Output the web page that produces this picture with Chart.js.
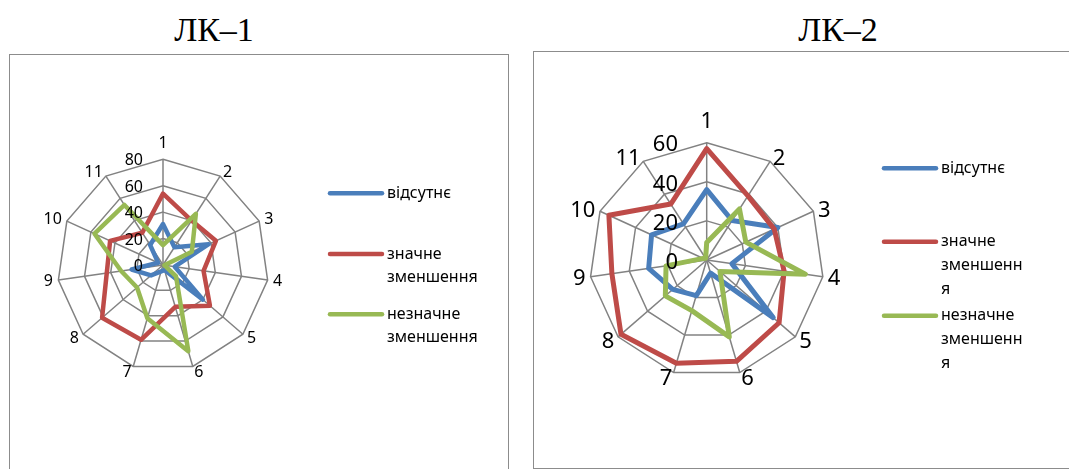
<!DOCTYPE html>
<html>
<head>
<meta charset="utf-8">
<script src="https://cdn.jsdelivr.net/npm/chart.js@4.4.1/dist/chart.umd.min.js"></script>
<style>
  html, body { margin: 0; padding: 0; background: #fff; }
  body { position: relative; width: 1069px; height: 469px; overflow: hidden; }
  .title { position: absolute; top: 13px; font-family: "Liberation Serif", "Times New Roman", serif;
           font-size: 34px; line-height: 1; color: #000; transform: translateX(-50%); white-space: nowrap; }
  .panel { position: absolute; border: 1.5px solid #8c8c8c; box-sizing: border-box; }
  canvas { position: absolute; left: 0; top: 0; }
</style>
</head>
<body>
<div class="title" style="left:214px">ЛК–1</div>
<div class="title" style="left:838px">ЛК–2</div>
<div class="panel" style="left:8.5px; top:54px; width:500.5px; height:440px"></div>
<div class="panel" style="left:532.5px; top:51px; width:560px; height:418px"></div>
<canvas id="lk1" width="1069" height="469"></canvas>
<canvas id="lk2" width="1069" height="469"></canvas>
<script>
// Categories (spokes) shared by both radar charts
const categories = ['1', '2', '3', '4', '5', '6', '7', '8', '9', '10', '11'];
const seriesNames = ['відсутнє', 'значне зменшення', 'незначне зменшення'];

// ЛК–1
const lk1Absent = [31, 16, 38, 9, 40, 4, 5, 12, 24, 4, 18];
const lk1Major  = [54, 40, 44, 31, 47, 33, 59, 61, 43, 44, 29];
const lk1Minor  = [15, 46, 24, 1, 13, 68, 42, 26, 32, 57, 54];
const lk1Ticks  = [0, 20, 40, 60, 80];

// ЛК–2
const lk2Absent = [36, 24, 40, 13, 45, 7, 19, 23, 30, 31, 22];
const lk2Major  = [57, 39, 38, 40, 49, 54, 55, 58, 49, 55, 34];
const lk2Minor  = [9, 31, 22, 51, 9, 41, 27, 28, 21, 2, 1];
const lk2Ticks  = [0, 20, 40, 60];

// Legend text, wrapped the way each legend box shows it
const legendLines1 = [['відсутнє'], ['значне', 'зменшення'], ['незначне', 'зменшення']];
const legendLines2 = [['відсутнє'], ['значне', 'зменшенн', 'я'], ['незначне', 'зменшенн', 'я']];

const colors = ['#4a7ebb', '#be4b48', '#98b954'];
const gridColor = '#828282';
const FONT = '"Noto Sans", "Open Sans", sans-serif';

// Draws spoke labels, tick labels and the legend on the chart canvas
const radarText = {
  id: 'radarText',
  afterDraw(chart, args, o) {
    const ctx = chart.ctx;
    const s = chart.scales.r;
    ctx.save();
    ctx.fillStyle = '#000';
    ctx.textBaseline = 'middle';

    // spoke labels
    ctx.font = o.pointFont + 'px ' + FONT;
    ctx.textAlign = 'center';
    chart.data.labels.forEach((lab, i) => {
      const a = s.getIndexAngle(i);
      const sin = Math.sin(a), cos = Math.cos(a);
      const p = s.getPointPosition(i, s.drawingArea + o.gap);
      const w = ctx.measureText(lab).width;
      let x = p.x, y = p.y + o.labelDy;
      if (Math.abs(sin) > 0.05) x += Math.sign(sin) * w / 2;
      if (cos > 0.95) y -= o.topLift;
      ctx.fillText(lab, x, y);
    });

    // value labels along the first spoke
    ctx.font = o.tickFont + 'px ' + FONT;
    ctx.textAlign = 'right';
    o.ticks.forEach(v => {
      const d = s.getDistanceFromCenterForValue(v);
      ctx.fillText(String(v), s.xCenter + o.tickDx, s.yCenter - d + o.tickDy);
    });

    // legend
    ctx.font = o.legendFont + 'px ' + FONT;
    ctx.textAlign = 'left';
    chart.data.datasets.forEach((ds, i) => {
      const y0 = o.legendRows[i];
      ctx.strokeStyle = ds.borderColor;
      ctx.lineWidth = 4.5;
      ctx.lineCap = 'round';
      ctx.beginPath();
      ctx.moveTo(o.legendX0, y0);
      ctx.lineTo(o.legendX1, y0);
      ctx.stroke();
      o.legendText[i].forEach((line, k) => {
        ctx.fillText(line, o.legendTextX, y0 + k * o.legendLineH);
      });
    });
    ctx.restore();
  }
};

function makeRadar(id, data, ticks, lines, geo, text) {
  const datasets = data.map((vals, i) => ({
    label: seriesNames[i],
    data: vals,
    borderColor: colors[i],
    backgroundColor: colors[i],
    borderWidth: geo.lineWidth,
    borderJoinStyle: 'round',
    fill: false,
    tension: 0,
    pointRadius: 0,
    pointHoverRadius: 0,
    order: 3 - i
  }));
  return new Chart(document.getElementById(id), {
    type: 'radar',
    data: { labels: categories, datasets },
    plugins: [radarText],
    options: {
      responsive: false,
      animation: false,
      layout: { padding: 0 },
      plugins: {
        legend: { display: false },
        tooltip: { enabled: false },
        radarText: Object.assign({ ticks, legendText: lines }, text)
      },
      scales: {
        r: {
          min: ticks[0],
          max: ticks[ticks.length - 1],
          ticks: { stepSize: ticks[1] - ticks[0], display: false },
          pointLabels: { display: false },
          grid: { color: gridColor, lineWidth: 1.5 },
          angleLines: { display: true, color: gridColor, lineWidth: 1.5 },
          afterFit(scale) {
            scale.xCenter = geo.cx;
            scale.yCenter = geo.cy;
            scale.drawingArea = geo.r;
          }
        }
      }
    }
  });
}

makeRadar('lk1', [lk1Absent, lk1Major, lk1Minor], lk1Ticks, legendLines1,
  { cx: 163, cy: 265, r: 105.7, lineWidth: 4.5 },
  { pointFont: 16, gap: 5.5, topLift: 11, labelDy: 0.5,
    tickFont: 16, tickDx: -20, tickDy: 1.5,
    legendFont: 16, legendX0: 330, legendX1: 382, legendTextX: 387,
    legendRows: [193.3, 254, 314.3], legendLineH: 23.3 });

makeRadar('lk2', [lk2Absent, lk2Major, lk2Minor], lk2Ticks, legendLines2,
  { cx: 706.7, cy: 260, r: 117.3, lineWidth: 5 },
  { pointFont: 22, gap: 5, topLift: 17, labelDy: 1.5,
    tickFont: 22, tickDx: -28.7, tickDy: 2.5,
    legendFont: 16, legendX0: 884, legendX1: 936, legendTextX: 941,
    legendRows: [168.3, 241.7, 315.7], legendLineH: 24 });
</script>
</body>
</html>
